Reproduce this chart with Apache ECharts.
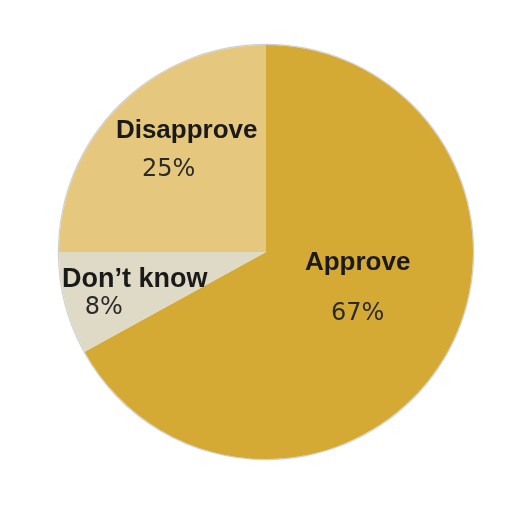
<!DOCTYPE html>
<html>
<head>
<meta charset="utf-8">
<script src="https://cdn.jsdelivr.net/npm/echarts@6/dist/echarts.min.js"></script>
<style>
  html, body { margin: 0; padding: 0; background: #fff; }
  #main { width: 512px; height: 512px; }
</style>
</head>
<body>
<div id="main"></div>
<script>
// survey answers, clockwise from 12 o'clock
const categories = ['Approve', "Don\u2019t know", 'Disapprove']
const shares = [67, 8, 25]
const sliceColors = ['#d4a934', '#dedac6', '#e5c87e']

// nudges for the name and the percent labels (from the inner position)
const nameShift = [[0, -43], [-28, 1], [-4, -46]]
const pctShift = [[0, 8], [-59, 29], [-22, -7]]
const nameSize = [26, 27, 26]

const chart = echarts.init(document.getElementById('main'))

const center = [266, 252]
const radius = 207

const sliceData = categories.map((name, i) => ({
    name: name,
    value: shares[i],
    itemStyle: { color: sliceColors[i] },
    label: { fontSize: nameSize[i] }
}))

const option = {
    animation: false,
    series: [
        {
            // thin grey outline round the disc
            type: 'pie',
            silent: true,
            center: center,
            radius: [radius, radius + 1.2],
            startAngle: 90,
            clockwise: true,
            label: { show: false },
            labelLine: { show: false },
            itemStyle: { color: '#d0d0d0', borderWidth: 0 },
            data: categories.map((name, i) => ({ name: name, value: shares[i] }))
        },
        {
            type: 'pie',
            center: center,
            radius: radius,
            startAngle: 90,
            clockwise: true,
            itemStyle: { borderWidth: 0 },
            label: {
                show: true,
                position: 'inner',
                formatter: '{b}',
                fontFamily: 'Liberation Sans, Arial, sans-serif',
                fontWeight: 'bold',
                fontSize: 26,
                color: '#1a1a1a'
            },
            labelLine: { show: false },
            labelLayout: (params) => ({
                dx: nameShift[params.dataIndex][0],
                dy: nameShift[params.dataIndex][1]
            }),
            data: sliceData
        },
        {
            // same slices again, invisible, only carrying the percent labels
            type: 'pie',
            silent: true,
            center: center,
            radius: radius,
            startAngle: 90,
            clockwise: true,
            itemStyle: { color: 'rgba(0,0,0,0)', borderWidth: 0 },
            label: {
                show: true,
                position: 'inner',
                formatter: '{c}%',
                fontFamily: 'DejaVu Sans, Verdana, sans-serif',
                fontSize: 24,
                color: '#2a2a2a'
            },
            labelLine: { show: false },
            labelLayout: (params) => ({
                dx: pctShift[params.dataIndex][0],
                dy: pctShift[params.dataIndex][1]
            }),
            data: categories.map((name, i) => ({ name: name, value: shares[i] }))
        }
    ]
}

chart.setOption(option)
</script>
</body>
</html>
